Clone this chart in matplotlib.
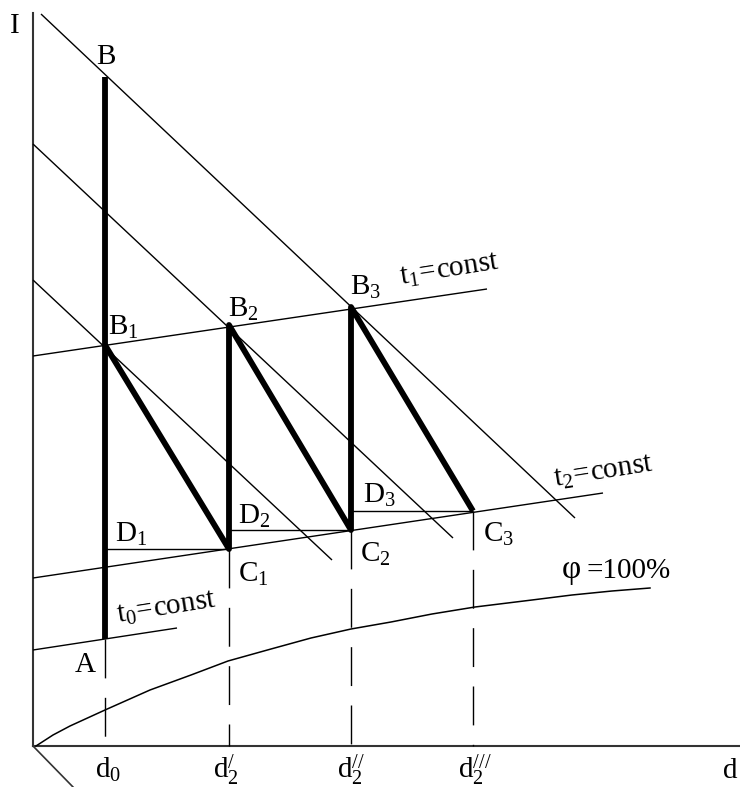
import matplotlib
matplotlib.use("Agg")
import matplotlib.pyplot as plt

plt.rcParams["font.family"] = ["Liberation Serif", "DejaVu Serif"]
plt.rcParams["mathtext.fontset"] = "custom"
plt.rcParams["mathtext.rm"] = "Liberation Serif"
plt.rcParams["mathtext.it"] = "Liberation Serif:italic"
plt.rcParams["lines.scale_dashes"] = False

# moisture content of the process states (d axis)
d_nodes = [72, 196, 318, 440]
d_labels = [r"$\mathrm{d_0}$", r"$\mathrm{d_2^{/}}$", r"$\mathrm{d_2^{//}}$", r"$\mathrm{d_2^{///}}$"]

# enthalpy of the states
I_A = 107
I_B = 669
I_Bn = [401, 421, 439]      # B1, B2, B3 on t1=const
I_Cn = [197, 216, 235]      # C1, C2, C3 on t2=const

# I=const lines (start d, start I, end d, end I)
enthalpy_lines = [
    (8, 732, 542, 228),
    (0, 602, 420, 208),
    (0, 466, 299, 186),
]

# isotherms
t0_line = ([0, 144], [96, 118])
t1_line = ([0, 454], [390, 457])
t2_line = ([0, 570], [168, 253])

# saturation curve phi = 100 %
phi_d = [3, 20, 37, 72, 117, 158, 195, 238, 278, 318, 358, 399, 442, 499, 539, 579, 617]
phi_I = [0, 11, 20, 36, 56, 71, 85, 97, 108, 117, 124, 132, 139, 146, 151, 155, 158]

fig = plt.figure(figsize=(7.4, 7.87), dpi=100)
ax = fig.add_axes([0, 0, 1, 1])
ax.set_xlim(-33, 707)
ax.set_ylim(-41, 746)
ax.axis("off")

thin = dict(color="black", lw=1.0, solid_capstyle="butt")
thick = dict(color="black", lw=4.2, solid_capstyle="butt", solid_joinstyle="round")

# axes
ax.plot([0, 0], [0, 733], color="#333333", lw=1.5)
ax.plot([0, 707], [0, 0], color="#333333", lw=1.5)
ax.plot([0, 40], [0, -41], color="#333333", lw=1.2)

for d1, i1, d2, i2 in enthalpy_lines:
    ax.plot([d1, d2], [i1, i2], **thin)

for xs, ys in (t0_line, t1_line, t2_line):
    ax.plot(xs, ys, **thin)

ax.plot(phi_d, phi_I, color="black", lw=1.1, solid_joinstyle="round")

# dashed projections onto the d axis
tops = [I_A] + I_Cn
for d, top in zip(d_nodes, tops):
    ax.plot([d, d], [top, 0], color="black", lw=1.0, dashes=(28, 14))

# horizontal lines C_n -> D_n
for k in range(3):
    ax.plot([d_nodes[k], d_nodes[k + 1]], [I_Cn[k], I_Cn[k]], **thin)

# process path: heating A-B, drying B1-C1, reheating C1-B2 ...
ax.plot([d_nodes[0], d_nodes[0]], [I_A, I_B], **thick)
path_d = [d_nodes[0], d_nodes[1], d_nodes[1], d_nodes[2], d_nodes[2], d_nodes[3]]
path_I = [I_Bn[0], I_Cn[0], I_Bn[1], I_Cn[1], I_Bn[2], I_Cn[2]]
ax.plot(path_d, path_I, **thick)

fs = 21
txt = dict(fontsize=fs, va="baseline")
ax.text(-23, 713, "I", ha="left", **txt)
ax.text(73, 682, "B", ha="center", **txt)
ax.text(75, 411, r"$\mathrm{B_1}$", ha="left", **txt)
ax.text(195, 429, r"$\mathrm{B_2}$", ha="left", **txt)
ax.text(317, 451, r"$\mathrm{B_3}$", ha="left", **txt)
ax.text(82, 204, r"$\mathrm{D_1}$", ha="left", **txt)
ax.text(205, 222, r"$\mathrm{D_2}$", ha="left", **txt)
ax.text(330, 243, r"$\mathrm{D_3}$", ha="left", **txt)
ax.text(205, 164, r"$\mathrm{C_1}$", ha="left", **txt)
ax.text(327, 184, r"$\mathrm{C_2}$", ha="left", **txt)
ax.text(450, 204, r"$\mathrm{C_3}$", ha="left", **txt)
ax.text(52, 74, "A", ha="center", **txt)

rot = dict(ha="left", rotation=9, rotation_mode="anchor", **txt)
ax.text(85, 123, r"$\mathrm{t_0\!=\!const}$", **rot)
ax.text(368, 461, r"$\mathrm{t_1\!=\!const}$", **rot)
ax.text(522, 259, r"$\mathrm{t_2\!=\!const}$", **rot)
ax.text(529, 168, "φ", ha="left", fontsize=24, va="baseline")
ax.text(553, 168, "=100%", ha="left", **txt)

offsets = [-10, -16, -14, -15]
for d, lab, off in zip(d_nodes, d_labels, offsets):
    ax.text(d + off, -32, lab, ha="left", **txt)
ax.text(690, -32, "d", ha="left", **txt)

fig.savefig("out.png", dpi=100)
